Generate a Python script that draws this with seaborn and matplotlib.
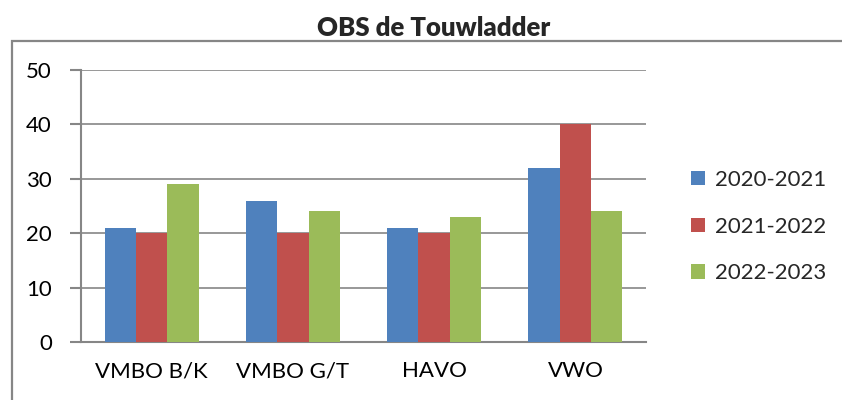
import pandas as pd
import matplotlib.pyplot as plt
import seaborn as sns
from matplotlib.patches import Rectangle

categories = ["VMBO B/K", "VMBO G/T", "HAVO", "VWO"]
years = ["2020-2021", "2021-2022", "2022-2023"]
values_2020 = [21, 26, 21, 32]
values_2021 = [20, 20, 20, 40]
values_2022 = [29, 24, 23, 24]
colors = ["#4F81BD", "#C0504D", "#9BBB59"]

sns.set_theme(style="white")
plt.rcParams['font.family'] = ['Lato', 'DejaVu Sans']

df = pd.DataFrame({
    "schooltype": categories * 3,
    "jaar": [years[0]] * 4 + [years[1]] * 4 + [years[2]] * 4,
    "aantal": values_2020 + values_2021 + values_2022,
})

fig = plt.figure(figsize=(8.42, 4.0), dpi=100)
ax = fig.add_axes([81 / 842, 1 - 342 / 400, (646 - 81) / 842, (342 - 70) / 400])

sns.barplot(data=df, x="schooltype", y="aantal", hue="jaar", palette=colors,
            width=0.667, saturation=1, linewidth=0, ax=ax, zorder=3, legend=True)

grid = "#868686"
ax.set_ylim(0, 50)
ax.set_xlim(-0.5, 3.5)
ax.set_yticks(range(0, 51, 10))
ax.yaxis.grid(True, color=grid, linewidth=1.2, zorder=0)
ax.set_axisbelow(True)
for s in ["top", "right"]:
    ax.spines[s].set_visible(False)
for s in ["left", "bottom"]:
    ax.spines[s].set_color(grid)
    ax.spines[s].set_linewidth(1.5)

ax.set_xticks([0, 1, 2, 3])
ax.set_xticks([-0.5, 0.5, 1.5, 2.5, 3.5], minor=True)
ax.tick_params(axis="x", which="major", length=0, labelsize=16, pad=14, labelcolor="black")
ax.tick_params(axis="x", which="minor", length=8, width=1.5, color=grid, direction="out")
ax.tick_params(axis="y", length=8, width=1.5, color=grid, labelsize=16, pad=13,
               direction="out", left=True, labelcolor="black")
ax.set_xlabel("")
ax.set_ylabel("")

leg = ax.legend(loc="center left", bbox_to_anchor=(1.045, 0.424), frameon=False,
                fontsize=16, handlelength=0.6, handleheight=0.6,
                handletextpad=0.45, labelspacing=1.2)

fig.text(434 / 842, 1 - 28 / 400, "OBS de Touwladder", ha="center", va="center",
         fontsize=18.5, fontweight="heavy")

fig.patches.append(Rectangle((12 / 842, -0.1), 1.0, 1 - 41 / 400 + 0.1,
                             transform=fig.transFigure, fill=False,
                             edgecolor=grid, linewidth=1.6))

fig.savefig("out.png", dpi=100)
